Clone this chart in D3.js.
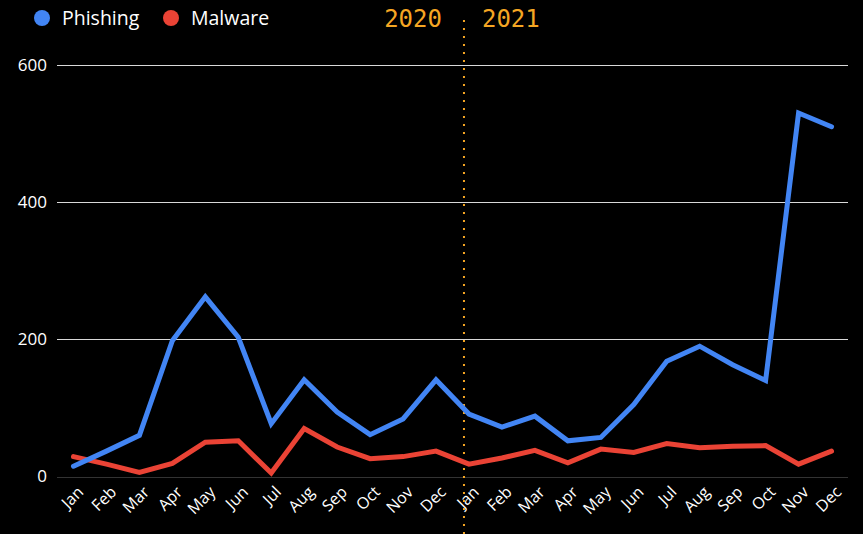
<!DOCTYPE html>
<html>
<head>
<meta charset="utf-8">
<script src="https://cdn.jsdelivr.net/npm/d3@7.9.0/dist/d3.min.js"></script>
<style>
  body { margin: 0; background: #000; }
  svg { display: block; font-family: "Open Sans", "Noto Sans", sans-serif; }
  .y-label { fill: #fff; font-size: 17px; }
  .x-label { fill: #fff; font-size: 16px; }
  .legend-text { fill: #fff; font-size: 19.5px; }
  .year-label { fill: #f5a623; font-size: 24px; font-family: "DejaVu Sans Mono", "Liberation Mono", monospace; }
</style>
</head>
<body>
<div id="chart"></div>
<script>
const months = ["Jan","Feb","Mar","Apr","May","Jun","Jul","Aug","Sep","Oct","Nov","Dec"];
const periods = ["2020", "2021"];
const phishing = [15, 37, 60, 198, 262, 203, 77, 141, 94, 61, 84, 141,
                  91, 72, 88, 52, 57, 105, 168, 190, 163, 140, 530, 510];
const malware = [29, 18, 6, 19, 50, 52, 5, 70, 43, 26, 29, 37,
                 18, 27, 38, 20, 40, 35, 48, 42, 44, 45, 18, 37];
const yTicks = [0, 200, 400, 600];

const width = 863, height = 534;
const margin = { top: 65, right: 15, bottom: 58, left: 57 };

const svg = d3.select("#chart")
  .append("svg")
  .attr("width", width)
  .attr("height", height);

const keys = d3.range(phishing.length);

const x = d3.scaleBand()
  .domain(keys)
  .range([margin.left, width - margin.right]);

const y = d3.scaleLinear()
  .domain([0, 600])
  .range([height - margin.bottom + 0.5, margin.top]);

const cx = i => x(i) + x.bandwidth() / 2;

// grid lines
const grid = svg.append("g").attr("class", "grid");
grid.selectAll("line")
  .data(yTicks)
  .join("line")
    .attr("x1", margin.left)
    .attr("x2", width - margin.right)
    .attr("y1", d => Math.round(y(d)) + 0.5)
    .attr("y2", d => Math.round(y(d)) + 0.5)
    .attr("stroke-width", 1)
    .attr("stroke", d => d === 0 ? "#333" : "#d9d9d9");

svg.selectAll("text.y-label")
  .data(yTicks)
  .join("text")
    .attr("class", "y-label")
    .attr("x", 47)
    .attr("y", d => y(d))
    .attr("dy", "0.35em")
    .attr("text-anchor", "end")
    .text(d => d);

// x labels
svg.selectAll("text.x-label")
  .data(keys)
  .join("text")
    .attr("class", "x-label")
    .attr("text-anchor", "end")
    .attr("transform", i => `translate(${cx(i) + 11}, ${height - margin.bottom + 17}) rotate(-45)`)
    .text(i => months[i % 12]);

// year divider
const divX = cx(12) - 5;
svg.append("line")
  .attr("x1", divX)
  .attr("x2", divX)
  .attr("y1", 20)
  .attr("y2", height)
  .attr("stroke", "#f5a623")
  .attr("stroke-width", 2)
  .attr("stroke-dasharray", "2,6");

svg.append("text")
  .attr("class", "year-label")
  .attr("x", divX - 22)
  .attr("y", 27)
  .attr("text-anchor", "end")
  .text(periods[0]);

svg.append("text")
  .attr("class", "year-label")
  .attr("x", divX + 18)
  .attr("y", 27)
  .text(periods[1]);

// lines
const line = d3.line()
  .x((d, i) => cx(i))
  .y(d => y(d));

const series = [
  { name: "Phishing", values: phishing, color: "#4285f4" },
  { name: "Malware", values: malware, color: "#ea4335" }
];

svg.selectAll("path.series")
  .data([series[1], series[0]])
  .join("path")
    .attr("class", "series")
    .attr("fill", "none")
    .attr("stroke", d => d.color)
    .attr("stroke-width", 5)
    .attr("stroke-linejoin", "miter")
    .attr("stroke-linecap", "round")
    .attr("d", d => line(d.values));

// legend
const legendX = [42, 171];
const legend = svg.selectAll("g.legend")
  .data(series)
  .join("g")
    .attr("class", "legend")
    .attr("transform", (d, i) => `translate(${legendX[i]}, 18)`);

legend.append("circle")
  .attr("r", 8)
  .attr("fill", d => d.color);

legend.append("text")
  .attr("class", "legend-text")
  .attr("x", 20)
  .attr("dy", "0.35em")
  .text(d => d.name);
</script>
</body>
</html>
